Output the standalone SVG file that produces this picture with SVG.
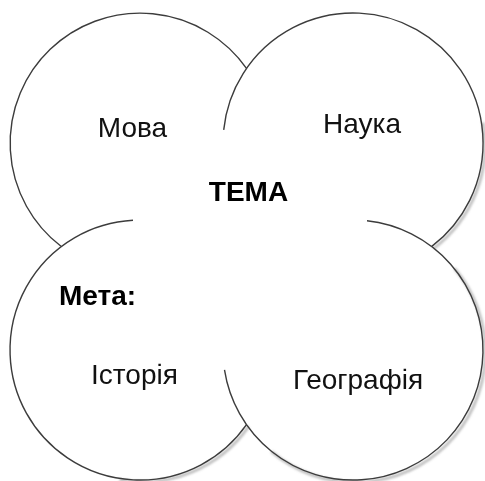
<svg xmlns="http://www.w3.org/2000/svg" width="485" height="481" viewBox="0 0 485 481">
<style>
.arc{fill:none;stroke:#3c3c3c;stroke-width:1.4}
.sh{fill:none;stroke:#8c8c8c;stroke-width:3;opacity:0.55}
.lbl{font-family:"Liberation Sans",Arial,sans-serif;font-size:28px;fill:#111}
.b{font-weight:bold;fill:#000}
</style>
<defs>
<filter id="blur" x="-10%" y="-10%" width="120%" height="120%"><feGaussianBlur stdDeviation="0.8"/></filter>
</defs>
<rect width="485" height="481" fill="#fff"/>
<g id="shadows" filter="url(#blur)" transform="translate(2,2)">
<path class="sh" d="M481.0,120.4 A130,130 0 0 1 431.8,246.4"/>
<path class="sh" d="M452.6,266.4 A130,130 0 0 1 269.4,449.6"/>
<path class="sh" d="M246.5,424.6 A130,130 0 0 1 117.4,478.0"/>
</g>
<g id="connectors"></g>
<g id="node-mova">
<path class="arc" d="M61,246.3 A130,130 0 1 1 246.5,68.4"/>
<text class="lbl" x="132.5" y="137" text-anchor="middle">Мова</text>
</g>
<g id="node-nauka">
<path class="arc" d="M223.7,129.9 A130,130 0 1 1 431.8,246.4"/>
<text class="lbl" x="362" y="133" text-anchor="middle">Наука</text>
</g>
<g id="node-heohrafiia">
<path class="arc" d="M367,220.8 A130,130 0 1 1 224.5,369.9"/>
<text class="lbl" x="358" y="389" text-anchor="middle">Географія</text>
</g>
<g id="node-istoriia">
<path class="arc" d="M246.5,424.6 A130,130 0 1 1 133,220.2"/>
<text class="lbl" x="134.5" y="384" text-anchor="middle">Історія</text>
</g>
<g id="node-tema">
<text class="lbl b" x="248.5" y="201" text-anchor="middle" font-size="29">ТЕМА</text>
</g>
<g id="node-meta">
<text class="lbl b" x="59" y="305">Мета:</text>
</g>
</svg>
